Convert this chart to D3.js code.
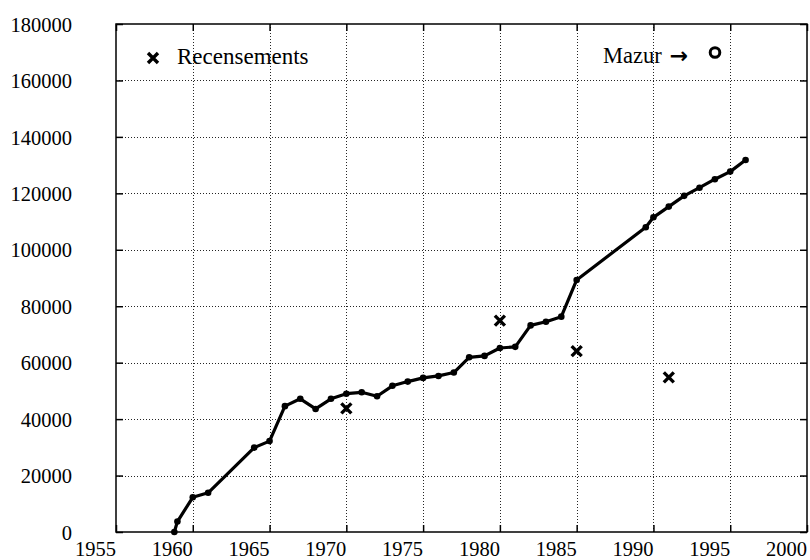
<!DOCTYPE html>
<html>
<head>
<meta charset="utf-8">
<script src="https://cdn.jsdelivr.net/npm/d3@7"></script>
<style>
  html, body { margin: 0; padding: 0; background: #fff; }
  svg { display: block; }
</style>
</head>
<body>
<svg id="chart" width="810" height="560"></svg>
<script>
// ---- Data ----
const years = [1958.8, 1959.0, 1960, 1961, 1964, 1965, 1966, 1967, 1968, 1969, 1970, 1971, 1972,
               1973, 1974, 1975, 1976, 1977, 1978, 1979, 1980, 1981, 1982, 1983, 1984, 1985,
               1989.5, 1990, 1991, 1992, 1993, 1994, 1995, 1996];
const population = [0, 3700, 12300, 13900, 29900, 32200, 44600, 47200, 43600, 47200, 49000, 49500, 48100,
                    51800, 53300, 54600, 55300, 56500, 61900, 62400, 65200, 65600, 73200, 74500, 76300, 89300,
                    108000, 111500, 115300, 119100, 122000, 125000, 127700, 131800];
const censusYears = [1970, 1980, 1985, 1991];
const censusValues = [43800, 74900, 64100, 54800];
const xTickValues = [1955, 1960, 1965, 1970, 1975, 1980, 1985, 1990, 1995, 2000];
const yTickValues = [0, 20000, 40000, 60000, 80000, 100000, 120000, 140000, 160000, 180000];
const legendCensus = "Recensements";
const legendMazur = "Mazur";
const legendArrow = "\u2192";

// ---- Layout ----
const svg = d3.select("#chart");
const pLeft = 116, pRight = 807, pTop = 24, pBottom = 532;
const font = "'Liberation Serif', 'Times New Roman', serif";

const x = d3.scaleLinear().domain([1955, 2000]).range([pLeft, pRight]);
const y = d3.scaleLinear().domain([0, 180000]).range([pBottom, pTop]);

svg.append("rect").attr("width", 810).attr("height", 560).attr("fill", "#fff");

// grid
const grid = svg.append("g").attr("stroke", "#000").attr("stroke-width", 1)
  .attr("stroke-dasharray", "1,2").attr("opacity", 0.85);
grid.selectAll("line.vx").data(xTickValues.filter(d => d > 1955 && d < 2000)).enter()
  .append("line").attr("x1", d => Math.round(x(d)) + 0.5).attr("x2", d => Math.round(x(d)) + 0.5)
  .attr("y1", pTop).attr("y2", pBottom);
grid.selectAll("line.hy").data(yTickValues.filter(d => d > 0 && d < 180000)).enter()
  .append("line").attr("y1", d => Math.round(y(d)) + 0.5).attr("y2", d => Math.round(y(d)) + 0.5)
  .attr("x1", pLeft).attr("x2", pRight);

// axes (inward ticks on all four sides)
function styleAxis(g) {
  g.select(".domain").remove();
  g.selectAll(".tick line").attr("stroke", "#000").attr("stroke-width", 1.5);
  g.selectAll("text").attr("font-family", font).attr("font-size", 20.5).attr("fill", "#000");
}
const xb = svg.append("g").attr("transform", `translate(0,${pBottom})`)
  .call(d3.axisBottom(x).tickValues(xTickValues).tickSize(-7).tickFormat(d3.format("d")));
styleAxis(xb);
xb.selectAll("text").attr("y", 24).attr("dy", 0).attr("dx", -21);

const xt = svg.append("g").attr("transform", `translate(0,${pTop})`)
  .call(d3.axisTop(x).tickValues(xTickValues).tickSize(-7).tickFormat(""));
styleAxis(xt);

const yl = svg.append("g").attr("transform", `translate(${pLeft},0)`)
  .call(d3.axisLeft(y).tickValues(yTickValues).tickSize(-7).tickPadding(44).tickFormat(d3.format("d")));
styleAxis(yl);
yl.selectAll("text").attr("dy", "0.35em");

const yrAxis = svg.append("g").attr("transform", `translate(${pRight},0)`)
  .call(d3.axisRight(y).tickValues(yTickValues).tickSize(-7).tickFormat(""));
styleAxis(yrAxis);

// border
svg.append("rect").attr("x", pLeft).attr("y", pTop).attr("width", pRight - pLeft).attr("height", pBottom - pTop)
  .attr("fill", "none").attr("stroke", "#000").attr("stroke-width", 1.5);

// line
const pts = years.map((t, i) => [t, population[i]]);
svg.append("path").datum(pts)
  .attr("fill", "none").attr("stroke", "#000").attr("stroke-width", 3.2).attr("stroke-linejoin", "round")
  .attr("d", d3.line().x(d => x(d[0])).y(d => y(d[1])));
svg.selectAll("circle.pt").data(pts).enter().append("circle")
  .attr("cx", d => x(d[0])).attr("cy", d => y(d[1])).attr("r", 3.3).attr("fill", "#000");

// census crosses
const cross = (g, cx, cy) => {
  const s = 5;
  g.append("path").attr("d", `M${cx - s},${cy - s}L${cx + s},${cy + s}M${cx - s},${cy + s}L${cx + s},${cy - s}`)
    .attr("stroke", "#000").attr("stroke-width", 3.4).attr("fill", "none");
};
const cg = svg.append("g");
censusYears.forEach((t, i) => cross(cg, x(t), y(censusValues[i])));

// legend
cross(svg, 153, 58);
svg.append("text").attr("x", 177).attr("y", 64).attr("font-family", font).attr("font-size", 23)
  .attr("fill", "#000").text(legendCensus);
const mz = svg.append("text").attr("x", 603).attr("y", 63).attr("font-family", font).attr("font-size", 22.5)
  .attr("fill", "#000");
mz.append("tspan").text(legendMazur);
mz.append("tspan").attr("dx", 8).attr("font-family", "'DejaVu Sans', sans-serif").attr("font-weight", "bold")
  .attr("font-size", 22).text(legendArrow);
svg.append("circle").attr("cx", 715).attr("cy", 52.5).attr("r", 4.8)
  .attr("fill", "none").attr("stroke", "#000").attr("stroke-width", 3);
</script>
</body>
</html>
